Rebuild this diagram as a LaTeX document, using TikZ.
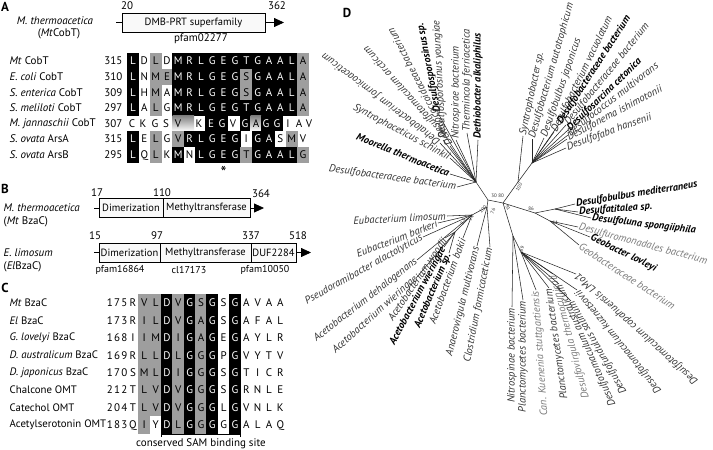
\documentclass[tikz,border=0pt]{standalone}
\usepackage{fontspec}
\setmainfont{PT Sans}
\usetikzlibrary{arrows.meta}
\definecolor{shade}{gray}{0.62}
\definecolor{tcol}{gray}{0.2}
\definecolor{tgr}{gray}{0.48}
\newcommand{\alrow}[4]{%
  \foreach \ch/\sh [count=\ci from 0] in {#4} {
    \node[cellbase, minimum height=#3, cell\sh] (#1-\ci) at ({133+11.333*\ci},#2) {\ch};
  }}
\newcommand{\leaf}[7]{%
  \coordinate (#1) at (#3);
  \draw[branch] (#2) -- (#1);
  \node[leaflbl, #6, rotate=#4, anchor=#5] (#1-l) at (#1) {#7};}
\newcommand{\sn}[3]{#1\kern1.2pt#2\kern1.2pt#3}
\begin{document}
\begin{tikzpicture}[x=1pt,y=-1pt,
  every node/.style={inner sep=0.5pt},
  lbl/.style={font=\fontsize{11}{13}\selectfont},
  lblc/.style={font=\fontsize{10.8}{13}\selectfont},
  num/.style={font=\fontsize{11}{13}\selectfont},
  small/.style={font=\fontsize{10}{12}\selectfont},
  plabel/.style={font=\fontsize{13}{15}\selectfont\bfseries},
  cellbase/.style={minimum width=11.7pt, inner sep=0pt, font=\fontsize{11}{13}\selectfont, text height=7.8pt, text depth=0pt},
  cellB/.style={fill=black, text=white},
  cellG/.style={fill=shade},
  cellW/.style={},
  dom/.style={draw, line width=0.6pt, fill=gray!5, minimum height=19pt, inner sep=0pt, font=\fontsize{10.5}{12}\selectfont},
  arr/.style={-{Triangle[length=10pt,width=9pt]}, line width=0.8pt},
  branch/.style={line width=0.55pt, draw=black!85},
  leaflbl/.style={font=\fontsize{10.5}{12}\selectfont\itshape, text=tcol, inner sep=1pt},
  bf/.style={font=\fontsize{10.3}{12}\selectfont\itshape\bfseries, text=black},
  gr/.style={text=tgr},
  bs/.style={font=\fontsize{5}{6}\selectfont, inner sep=0pt, text=tcol}
]
\useasboundingbox (0,0) rectangle (713,450);
\fill[white] (0,0) rectangle (713,450);

% ---------------- Panel A ----------------
\node[plabel] (pA) at (5,7) {A};
\node[lbl] (mtA) at (55,21) {\textit{M. thermoacetica}};
\node[lbl] (mtA2) at (59,34) {(\textit{Mt}CobT)};
\node[dom, minimum width=143pt] (boxA) at (193.5,22.5) {DMB-PRT superfamily};
\coordinate (tickA) at (116,22.5);
\coordinate (endA) at (284,22.5);
\draw[line width=0.6pt] (tickA) -- (boxA.west);
\draw[arr] (boxA.east) -- (endA);
\node[num] (n20) at (127,6) {20};
\node[num] (n362) at (277,6) {362};
\node[num] (pfA) at (201,39) {pfam02277};

\foreach \t/\n/\yy [count=\i] in {{\textit{Mt} CobT}/315/61, {\textit{E. coli} CobT}/310/76.6, {\textit{S. enterica} CobT}/309/92.2, {\textit{S. meliloti} CobT}/297/107.8, {\textit{M. jannaschii}\ CobT}/307/123.4, {\textit{S. ovata} ArsA}/315/139, {\textit{S. ovata} ArsB}/295/154.6}{
  \node[lbl, anchor=west] (aL\i) at (9,\yy) {\t};
  \node[num, anchor=east] (aN\i) at (123,\yy) {\n};
}
\alrow{rA1}{61}{15.9pt}{L/B,D/W,L/G,D/W,M/B,R/B,L/B,G/B,E/B,G/B,T/B,G/B,A/B,A/B,L/B,A/G}
\alrow{rA2}{76.6}{15.9pt}{L/B,N/W,M/G,E/G,M/B,R/B,L/B,G/B,E/B,G/B,S/G,G/B,A/B,A/B,L/B,A/G}
\alrow{rA3}{92.2}{15.9pt}{L/B,H/W,M/G,A/W,M/B,R/B,L/B,G/B,E/B,G/B,S/G,G/B,A/B,A/B,L/B,A/G}
\alrow{rA4}{107.8}{15.9pt}{L/B,A/W,L/G,G/W,M/B,R/B,L/B,G/B,E/B,G/B,T/B,G/B,A/B,A/B,L/B,A/G}
% M. jannaschii row (shifted letters)
\fill[shade] (172.7,115.5) rectangle (194,131.3);
\fill[black] (205,115.5) rectangle (228,131.3);
\fill[black] (239.5,115.5) rectangle (250.5,131.3);
\fill[shade] (250.5,115.5) rectangle (261,131.3);
\fill[black] (261,115.5) rectangle (283,131.3);
\foreach \ch/\xx/\tc [count=\i] in {C/132/black,K/143/black,G/155/black,S/166/black,V/178/black,K/199/black,E/211/white,G/222/white,V/233/black,G/245/white,A/256/black,G/266/white,G/277/white,I/288/black,A/299/black,V/309/black}{
  \node[cellbase, text=\tc] (rA5-\i) at (\xx,123.4) {\ch};
}
\alrow{rA6}{139}{15.9pt}{L/B,E/W,L/G,G/W,V/G,R/B,L/B,G/B,E/B,G/B,I/W,G/B,A/B,S/W,M/G,V/W}
\alrow{rA7}{154.6}{15.9pt}{L/B,Q/W,L/G,K/W,M/B,N/W,L/B,G/B,E/B,G/B,T/G,G/B,A/B,A/B,L/B,G/G}
\node[font=\fontsize{17}{18}\selectfont] (ast) at (223.7,172) {*};

% ---------------- Panel B ----------------
\node[plabel] (pB) at (5,189) {B};
\node[lbl, anchor=west] (mtB) at (3,208) {\textit{M. thermoacetica}};
\node[lbl, anchor=west] (mtB2) at (3,222) {(\textit{Mt} BzaC)};
\node[dom, minimum width=64pt] (bM1) at (131,208) {Dimerization};
\node[dom, minimum width=87pt] (bM2) at (206.5,208) {Methyltransferase};
\coordinate (tickB) at (94,208);
\coordinate (endB) at (264,208);
\draw[line width=0.6pt] (tickB) -- (bM1.west);
\draw[arr] (bM2.east) -- (endB);
\node[num] (n17) at (97,193) {17};
\node[num] (n110) at (162,193) {110};
\node[num] (n364) at (261,194) {364};

\node[lbl, anchor=west] (elB) at (3,253) {\textit{E. limosum}};
\node[lbl, anchor=west] (elB2) at (3,267) {(\textit{El}BzaC)};
\node[dom, minimum width=61pt] (bE1) at (129.5,252.5) {Dimerization};
\node[dom, minimum width=91pt] (bE2) at (205.5,252.5) {Methyltransferase};
\node[dom, minimum width=45pt] (bE3) at (273.5,252.5) {DUF2284};
\coordinate (tickE) at (94,252.5);
\coordinate (endE) at (311,252.5);
\draw[line width=0.6pt] (tickE) -- (bE1.west);
\draw[arr] (bE3.east) -- (endE);
\node[num] (n15) at (95,236) {15};
\node[num] (n97) at (157,236) {97};
\node[num] (n337) at (251,236) {337};
\node[num] (n518) at (298,236) {518};
\node[small] (pf1) at (120,270) {pfam16864};
\node[small] (pf2) at (189,270) {cl17173};
\node[small] (pf3) at (265,270) {pfam10050};

% ---------------- Panel C ----------------
\node[plabel] (pC) at (5,288) {C};
\foreach \t/\n/\yy [count=\i] in {{\textit{Mt} BzaC}/\sn175/303, {\textit{El} BzaC}/\sn173/320.4, {\textit{G. lovelyi} BzaC}/\sn168/337.8, {\textit{D. australicum} BzaC}/\sn169/355.2, {\textit{D. japonicus} BzaC}/\sn170/372.6, {Chalcone OMT}/\sn212/390, {Catechol OMT}/\sn204/407.4, {Acetylserotonin OMT}/\sn183/424.8}{
  \node[lblc, anchor=west] (cL\i) at (9,\yy) {\t};
  \node[num, anchor=east] (cN\i) at (128,\yy) {\n};
}
\alrow{rC1}{303}{17.7pt}{R/W,V/G,L/G,D/B,V/G,G/B,S/G,G/B,S/W,G/B,A/W,V/W,A/W,A/W}
\alrow{rC2}{320.4}{17.7pt}{R/W,I/G,L/G,D/B,V/G,G/B,A/G,G/B,S/W,G/B,A/W,F/W,A/W,L/W}
\alrow{rC3}{337.8}{17.7pt}{I/W,I/G,M/G,D/B,I/G,G/B,A/G,G/B,E/W,G/B,A/W,Y/W,L/W,R/W}
\alrow{rC4}{355.2}{17.7pt}{R/W,L/G,L/G,D/B,L/G,G/B,G/G,G/B,P/W,G/B,V/W,Y/W,T/W,V/W}
\alrow{rC5}{372.6}{17.7pt}{S/W,M/G,L/G,D/B,I/G,G/B,G/G,G/B,S/W,G/B,T/W,I/W,C/W,R/W}
\alrow{rC6}{390}{17.7pt}{T/W,L/G,V/G,D/B,V/G,G/B,G/G,G/B,S/W,G/B,R/W,N/W,L/W,E/W}
\alrow{rC7}{407.4}{17.7pt}{T/W,L/G,V/G,D/B,V/G,G/B,G/G,G/B,L/W,G/B,V/W,N/W,L/W,K/W}
\alrow{rC8}{424.8}{17.7pt}{Q/W,I/G,Y/W,D/B,L/G,G/B,G/G,G/B,G/W,G/B,A/W,L/W,A/W,Q/W}
\coordinate (brL) at (161.3,434.5);
\coordinate (brR) at (240.7,434.5);
\draw[line width=0.5pt] (brL) -- (brR);
\draw[line width=0.5pt] ([yshift=-2.5pt]brL) -- ([yshift=2.5pt]brL);
\draw[line width=0.5pt] ([yshift=-2.5pt]brR) -- ([yshift=2.5pt]brR);
\node[lbl] (sam) at (201,443.5) {conserved SAM binding site};

% ---------------- Panel D ----------------
\node[plabel] (pD) at (347,13) {D};
\coordinate (hL) at (488,200);
\coordinate (hR) at (503,203);
\coordinate (hUL) at (476,182);
\coordinate (hLL) at (472,215);
\coordinate (hL2) at (487,207);
\coordinate (hUR) at (518,182);
\coordinate (hUR2) at (532,163);
\coordinate (hRb) at (535,213);
\coordinate (hDb) at (555,209);
\coordinate (h64) at (550,221);
\coordinate (hLow) at (513,236);
\coordinate (hK) at (521,252);
\coordinate (hAc) at (455,232);
\draw[branch] (hUL) -- (hL) -- (hR) -- (hUR) -- (hUR2);
\draw[branch] (hL) -- (hL2);
\draw[branch] (hL2) -- (hLL) -- (hAc);
\draw[branch] (hR) -- (hRb) -- (hDb);
\draw[branch] (hRb) -- (h64);
\draw[branch] (hR) -- (hLow) -- (hK);

% upper-left
\leaf{l1}{hUL}{457,187}{-8}{east}{}{Desulfobacteraceae bacterium}
\leaf{l2}{hUL}{450,174}{-22}{east}{bf}{Moorella thermoacetica}
\leaf{l3}{hUL}{450,158}{-28}{east}{}{Syntrophaceticus schinkii}
\leaf{l4}{hUL}{440,143}{143}{west}{}{Dehalobacterium formicoaceticum}
\leaf{l5}{hUL}{446,137}{132}{west}{}{Desulfotomaculum arcticum}
\leaf{l6}{hUL}{450,146}{117}{west}{}{Dehalococcoidaceae bacterium}
\leaf{l7}{hUL}{438,113}{101}{west}{bf}{Desulfosporosinus sp.}
\leaf{l8}{hUL}{443,140}{93}{west}{}{Desulfosporosinus youngiae}
\leaf{l9}{hUL}{456,140}{90}{west}{}{Nitrospirae bacterium}
\leaf{l10}{hUL}{467,133}{90}{west}{}{Thermincola ferriacetica}
\leaf{l11}{hUL}{478,140}{90}{west}{bf}{Dethiobacter alkaliphilus}
% upper-right
\leaf{r1}{hUR}{523,136}{78}{west}{}{Syntrophobacter sp.}
\leaf{r2}{hUR2}{532,139}{74}{west}{}{Desulfobacterium autotrophicum}
\leaf{r3}{hUR2}{544,138}{71}{west}{}{Desulfobulbus japonicus}
\leaf{r4}{hUR2}{554,132}{64}{west}{}{Desulfobacterium vacuolatum}
\leaf{r5}{hUR2}{559,124}{57}{west}{bf}{Desulfobacteraceae bacterium}
\leaf{r6}{hUR2}{566,125}{51}{west}{}{Desulfobacteraceae bacterium}
\leaf{r7}{hUR2}{568,130}{44}{west}{bf}{Desulfosarcina cetonica}
\leaf{r8}{hUR2}{568,135}{38}{west}{}{Desulfococcus multivorans}
\leaf{r9}{hUR2}{567,139}{28}{west}{}{Desulfonema ishimotonii}
\leaf{r10}{hUR2}{566,148}{20}{west}{}{Desulfofaba hansenii}
% right
\leaf{s1}{hDb}{575,204}{9}{west}{bf}{Desulfobulbus mediterraneus}
\leaf{s2}{hDb}{578,212}{4}{west}{bf}{Desulfatitalea sp.}
\leaf{s3}{hDb}{591,218}{-7}{west}{bf}{Desulfoluna spongiiphila}
\leaf{s4}{h64}{578,227}{-15}{west}{gr}{Desulfuromonadales bacterium}
\leaf{s5}{h64}{590,237}{-26}{west}{bf}{Geobacter lovleyi}
\leaf{s6}{h64}{579,245}{-33}{west}{gr}{Geobacteraceae bacterium}
% lower
\leaf{d1}{hLow}{512,307}{90}{east}{}{Nitrospinae bacterium}
\leaf{d2}{hLow}{523,300}{90}{east}{}{Planctomycetes bacterium}
\leaf{d3}{hK}{536,290}{94}{east}{gr}{Can. Kuenenia stuttgartiensis}
\leaf{d4}{hK}{549,288}{98}{east}{}{Planctomycetes bacterium}
\leaf{d5}{hK}{553,274}{105}{east}{gr}{Desulfovirgula thermocuniculi}
\leaf{d6}{hK}{559,284}{114}{east}{}{Desulfotomaculum australicum}
\leaf{d7}{hK}{571,301}{120}{east}{}{Desulfofundulus salinum}
\leaf{d8}{hK}{577,290}{129}{east}{}{Desulfotomaculum kuznetsovii}
\leaf{d9}{hK}{576,274}{138}{east}{}{Desulfotomaculum copahuensis LMo1}
% lower-left
\leaf{e1}{hLL}{447,216}{3}{east}{}{Eubacterium limosum}
\leaf{e2}{hLL}{438,223}{21}{east}{}{Eubacterium barkeri}
\leaf{e3}{hLL}{423,237}{29}{east}{}{Pseudoramibacter alactolyticus}
\leaf{e4}{hLL}{417,260}{38}{east}{}{Acetobacterium dehalogenans}
\leaf{e5}{hAc}{417,277}{42}{east}{}{Acetobacterium wieringae}
\leaf{e6}{hAc}{445,238}{56}{east}{}{Acetobacterium woodii}
\leaf{e7}{hAc}{444,247}{62}{east}{bf}{Acetobacterium wieringae}
\leaf{e8}{hAc}{449,253}{67}{east}{bf}{Acetobacterium sp.}
\leaf{e9}{hLL}{463,238}{70}{east}{}{Acetobacterium bakii}
\leaf{e10}{hL2}{477,246}{76}{east}{}{Anaerovirgula multivorans}
\leaf{e11}{hL2}{490,247}{79}{east}{}{Clostridium formicaceticum}
% bootstrap values
\node[bs, rotate=60] (b1) at (519,187) {100};
\node[bs] (b2) at (494,196) {30};
\node[bs] (b3) at (501,196) {80};
\node[bs, rotate=70] (b4) at (493,211) {76};
\node[bs, rotate=45] (b5) at (483,209) {100};
\node[bs, rotate=60] (b6) at (471,218) {91};
\node[bs, rotate=60] (b7) at (463,222) {83};
\node[bs, rotate=-60] (b8) at (508,208) {91};
\node[bs] (b9) at (531,209) {86};
\node[bs] (b10) at (555,223) {64};
\node[bs, rotate=70] (b11) at (522,249) {89};
\end{tikzpicture}
\end{document}
